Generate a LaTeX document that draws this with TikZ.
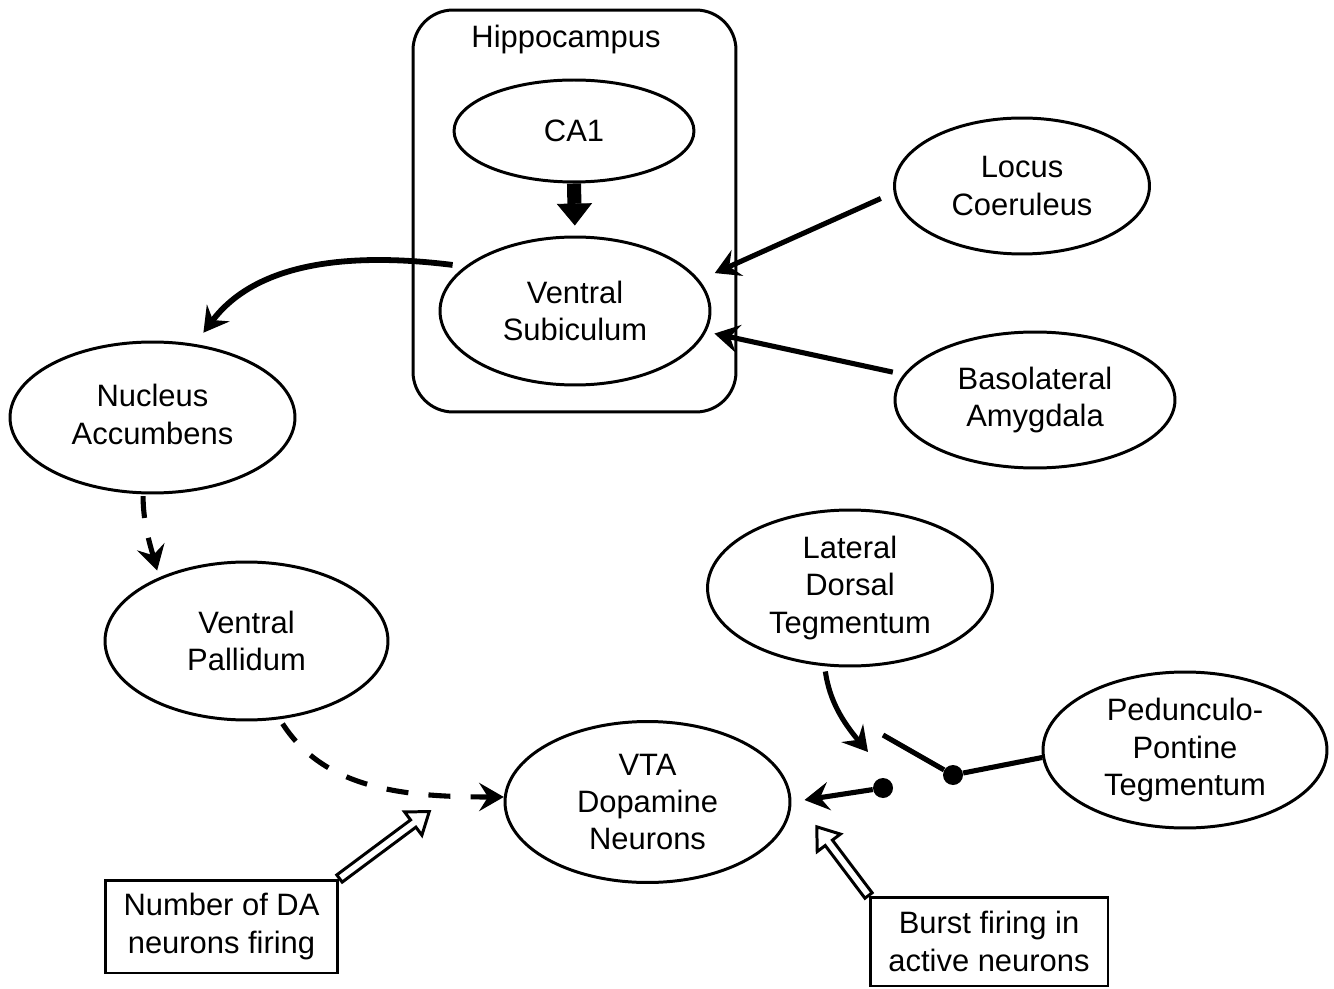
\documentclass[tikz,border=0pt]{standalone}
\usepackage{fontspec}
\setmainfont{Liberation Sans}
\usetikzlibrary{arrows.meta,shapes.geometric}
\begin{document}
\begin{tikzpicture}[x=0.02cm,y=-0.02cm,
  ell/.style={draw, ellipse, line width=1.7pt, inner sep=0pt},
  txt/.style={font=\fontsize{17.6}{21.3}\selectfont, align=center, inner sep=0pt},
  conn/.style={line width=2.9pt, -{Stealth[length=14pt,width=16pt,inset=5pt]}},
  dashconn/.style={conn, dash pattern=on 12.5pt off 11.5pt},
  bigarrow/.style={line width=8pt, -{Triangle[length=12.5pt,width=20pt,line width=0.5pt]}},
  plainline/.style={line width=2.9pt},
  box/.style={draw, line width=1.7pt, inner sep=0pt, font=\fontsize{17.6}{21.3}\selectfont, align=center},
  hollow/.style={draw, line width=1.7pt, fill=white, line join=miter},
  dotn/.style={circle, fill=black, inner sep=0pt, minimum size=0.4cm}]
\useasboundingbox (0,0) rectangle (1334,989);

% Hippocampus frame
\node[draw, line width=1.7pt, rounded corners=0.8cm, minimum width=6.46cm, minimum height=8.04cm] (hip) at (574.5,211) {};
\node[txt] (hiptext) at (566,40) {Hippocampus};

% ellipses
\node[ell, minimum width=4.8cm, minimum height=2.04cm, label={[txt]center:CA1}] (ca1) at (574,131) {};
\node[ell, minimum width=5.4cm, minimum height=2.96cm, label={[txt]center:Ventral\\Subiculum}] (vs) at (575,311) {};
\node[ell, minimum width=5.1cm, minimum height=2.72cm, label={[txt]center:Locus\\Coeruleus}] (lc) at (1022,186) {};
\node[ell, minimum width=5.6cm, minimum height=2.72cm, label={[txt]center:Basolateral\\Amygdala}] (bla) at (1035,400) {};
\node[ell, minimum width=5.7cm, minimum height=3.02cm, label={[txt, yshift=0.06cm]center:Nucleus\\Accumbens}] (nac) at (152.5,417.5) {};
\node[ell, minimum width=5.66cm, minimum height=3.16cm, label={[txt]center:Ventral\\Pallidum}] (vp) at (246.5,641) {};
\node[ell, minimum width=5.7cm, minimum height=3.22cm, label={[txt]center:VTA\\Dopamine\\Neurons}] (vta) at (647.5,802) {};
\node[ell, minimum width=5.7cm, minimum height=3.12cm, label={[txt]center:Lateral\\Dorsal\\Tegmentum}] (ldt) at (850,588) {};
\node[ell, minimum width=5.68cm, minimum height=3.12cm, label={[txt]center:Pedunculo-\\Pontine\\Tegmentum}] (ppt) at (1185,750) {};

% boxes
\node[box, minimum width=4.66cm, minimum height=1.86cm] (b1) at (221.5,926.5) {Number of DA\\neurons firing};
\node[box, minimum width=4.76cm, minimum height=1.78cm] (b2) at (989,941.5) {Burst firing in\\active neurons};

% dots and free ends
\node[dotn] (d1) at (953,775) {};
\node[dotn] (d2) at (883,788) {};
\coordinate (pptend) at (883,735);
\coordinate (ldtend) at (868,752);

% connectors
\draw[bigarrow, shorten >=5.7pt] (ca1.south) -- (vs.north);
\draw[conn, shorten <=8pt, shorten >=9.6pt] (lc.183.4) -- (vs.14.9);
\draw[conn, shorten <=6.2pt, shorten >=4.8pt] (bla.169.8) -- (vs.-9.8);
\draw[conn, line width=3.3pt, shorten <=7pt, shorten >=8pt] (vs.158.9) .. controls +(-120,-15) and +(60,-80) .. (nac.60.65);
\draw[dashconn, shorten <=1pt, shorten >=4pt] (nac.-97.7) .. controls +(0,30) and +(-8,-30) .. (vp.144.8);
\draw[dashconn, shorten <=3pt] (vp.-67.8) .. controls +(45,70) and +(-100,0) .. (vta.178);
\draw[conn, shorten <=3pt] (ldt.-108.2) .. controls +(5,35) and +(-25,-30) .. (ldtend);
\draw[plainline] (ppt.183.6) -- (d1);
\draw[plainline] (d1) -- (pptend);
\draw[conn, shorten >=7.5pt] (d2) -- (vta.east);

% hollow block arrows
\begin{scope}[shift={(b1.north east)}, rotate=36.7]
  \draw[hollow] (0,-4.5) -- (92,-4.5) -- (92,-14.5) -- (112,0) -- (92,14.5) -- (92,4.5) -- (0,4.5) -- cycle;
\end{scope}
\begin{scope}[shift={(b2.north west)}, rotate=127]
  \draw[hollow] (0,-4.5) -- (66,-4.5) -- (66,-14.5) -- (86,0) -- (66,14.5) -- (66,4.5) -- (0,4.5) -- cycle;
\end{scope}
\end{tikzpicture}
\end{document}
